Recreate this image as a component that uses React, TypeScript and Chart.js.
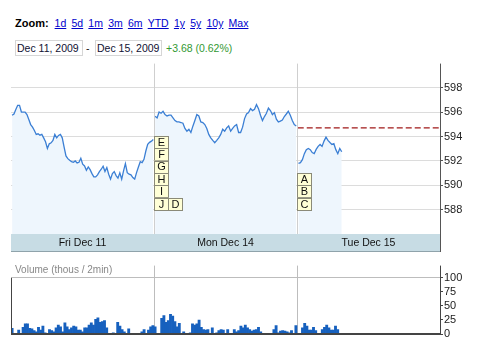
import React, { useEffect, useRef } from 'react';
import { Chart, registerables } from 'chart.js';

Chart.register(...registerables);

// ---------- header text ----------
const ZOOM_LINKS = ['1d', '5d', '1m', '3m', '6m', 'YTD', '1y', '5y', '10y', 'Max'];
const RANGE_FROM = 'Dec 11, 2009';
const RANGE_TO = 'Dec 15, 2009';
const CHANGE_TEXT = '+3.68 (0.62%)';
const VOLUME_TITLE = 'Volume (thous / 2min)';

// ---------- time axis (minutes of trading, 390 per session) ----------
const DAY_LABELS = ['Fri Dec 11', 'Mon Dec 14', 'Tue Dec 15'];
const DAY_STARTS = [0, 390, 780];
const DAY_MINUTES = 390;
const TIME_MAX = 1170;

// ---------- price ----------
const PRICE_MIN = 586;
const PRICE_MAX = 600;
const PRICE_TICKS = [588, 590, 592, 594, 596, 598];
const PREV_CLOSE = 594.72;
const PREV_CLOSE_SPAN = [782, 1170];

const FRI_SPAN = [3, 388];
const FRI_PRICES = [
  595.76, 595.86, 596.22, 596.57, 596.57, 596.02, 596.02, 596.02, 595.81, 595.40,
  594.99, 594.78, 594.50, 594.18, 594.23, 594.12, 594.18, 593.90, 593.58, 593.03,
  593.41, 593.49, 593.69, 594.18, 593.90, 594.10, 594.18, 593.90, 593.14, 592.41,
  592.19, 592.06, 591.94, 591.89, 592.00, 591.84, 591.89, 592.22, 591.73, 591.59,
  591.24, 591.51, 591.29, 590.96, 590.69, 590.69, 590.86, 591.13, 591.32, 591.57,
  591.13, 591.46, 590.91, 590.51, 590.96, 591.13, 590.80, 590.59, 591.02, 590.51,
  591.18, 591.78, 591.04, 590.91, 590.86, 590.64, 590.51, 591.04, 591.51, 591.94,
  591.86, 592.14, 592.82, 593.36, 593.53, 593.63, 593.77,
];

const MON_SPAN = [393, 778];
const MON_PRICES = [
  595.67, 595.54, 596.03, 595.92, 596.08, 595.81, 595.70, 595.76, 595.76, 595.54,
  595.32, 595.21, 595.21, 595.16, 595.10, 594.67, 594.45, 594.61, 594.34, 594.86,
  595.32, 595.81, 595.70, 595.21, 595.16, 594.99, 594.67, 594.18, 593.90, 593.69,
  593.50, 593.69, 593.90, 594.18, 594.61, 594.45, 594.72, 594.88, 594.45, 594.67,
  594.88, 594.99, 594.34, 594.34, 594.78, 595.48, 595.86, 595.97, 596.30, 596.14,
  596.24, 596.63, 596.30, 595.76, 595.32, 595.65, 595.92, 596.35, 596.14, 595.81,
  595.97, 595.43, 595.21, 595.27, 595.37, 595.65, 595.86, 596.08, 595.76, 595.32,
  594.99, 594.88,
];

const TUE_SPAN = [784, 902];
const TUE_PRICES = [
  591.81, 591.86, 592.11, 592.60, 592.93, 593.03, 592.93, 592.69, 592.60, 592.95,
  593.20, 593.36, 593.20, 593.63, 593.96, 593.69, 593.52, 593.36, 593.42, 592.93,
  592.60, 593.03, 592.76,
];

// ---------- news flags ----------
const FLAG_COLUMNS = [
  { at: 390, column: 0, letters: ['E', 'F', 'G', 'H', 'I', 'J'] },
  { at: 390, column: 1, letters: ['D'] },
  { at: 780, column: 0, letters: ['A', 'B', 'C'] },
];
const FLAG_BASE = 587.95;

// ---------- volume (thousands per slot) ----------
const VOLUME_MAX = 122;
const VOLUME_TICKS = [0, 25, 50, 75, 100];
const VOLUME_GRID = 100;
const VOLUME_SLOT = 6;
const FRI_VOLUME = [
  10, 0, 0, 7, 0, 12, 18, 18, 10, 9,
  6, 4, 12, 7, 14, 2, 0, 8, 6, 4,
  11, 16, 13, 4, 20, 13, 8, 11, 14, 13,
  7, 7, 4, 11, 11, 16, 20, 16, 26, 29,
  21, 22, 24, 11, 0, 0, 2, 0, 21, 14,
  8, 4, 0, 9, 0, 0, 0, 0, 0, 4,
  8, 0, 7, 13, 15,
];
const MON_VOLUME = [
  13, 0, 0, 28, 33, 21, 24, 35, 32, 22,
  13, 19, 0, 4, 1, 0, 2, 18, 16, 18,
  25, 12, 8, 7, 8, 0, 11, 0, 2, 6,
  8, 7, 1, 8, 0, 0, 8, 4, 6, 14,
  11, 16, 11, 8, 5, 7, 8, 12, 4, 1,
  0, 0, 0, 0, 8, 15, 2, 5, 6, 5,
  4, 2, 6, 1, 15,
];
const TUE_VOLUME = [0, 0, 11, 19, 14, 7, 7, 12, 6, 0, 0, 8, 12, 16, 11, 7, 7, 14, 8];

// ---------- styles ----------
const FONT = '"Liberation Sans", Arial, sans-serif';
const LINE_COLOR = '#3b7fd4';
const FILL_COLOR = '#eef6fd';
const GRID_COLOR = '#dcdcdc';
const DAY_LINE_COLOR = '#cfcfcf';
const AXIS_COLOR = '#555555';
const BAND_COLOR = '#c7dce4';
const BAR_COLOR = '#1660be';

function toPoints(values: number[], span: number[]) {
  const [a, b] = span;
  return values.map((v, i) => ({ x: a + ((b - a) * i) / (values.length - 1), y: v }));
}

function volumePoints(values: number[], dayStart: number) {
  return values.map((v, i) => ({ x: dayStart + VOLUME_SLOT * i + VOLUME_SLOT / 2, y: v }));
}

const pricePlugin = {
  id: 'priceDecor',
  afterDatasetsDraw(chart: any) {
    const { ctx, chartArea, scales } = chart;
    const xs = scales.x;
    const ys = scales.y;
    ctx.save();
    // day separators
    ctx.strokeStyle = DAY_LINE_COLOR;
    ctx.lineWidth = 1;
    DAY_STARTS.slice(1).forEach((d) => {
      const px = Math.round(xs.getPixelForValue(d)) + 0.5;
      ctx.beginPath();
      ctx.moveTo(px, chartArea.top);
      ctx.lineTo(px, chartArea.bottom);
      ctx.stroke();
    });
    // flags
    const bw = 14;
    const bh = 12.4;
    const base = ys.getPixelForValue(FLAG_BASE);
    ctx.font = `11px ${FONT}`;
    ctx.textAlign = 'center';
    ctx.textBaseline = 'middle';
    FLAG_COLUMNS.forEach((f) => {
      const left = Math.round(xs.getPixelForValue(f.at)) + f.column * bw;
      const n = f.letters.length;
      f.letters.forEach((letter, i) => {
        const top = base - (n - i) * bh;
        ctx.fillStyle = '#ffffd6';
        ctx.fillRect(left, top, bw, bh);
        ctx.strokeStyle = '#8a8a78';
        ctx.strokeRect(left + 0.5, Math.round(top) + 0.5, bw, Math.round(bh));
        ctx.fillStyle = '#111';
        ctx.fillText(letter, left + bw / 2 + 0.5, top + bh / 2 + 0.5);
      });
    });
    ctx.restore();
  },
  afterDraw(chart: any) {
    const { ctx, chartArea, scales } = chart;
    const xs = scales.x;
    ctx.save();
    ctx.lineWidth = 1;
    // band bottom line
    ctx.strokeStyle = '#8fa3ab';
    ctx.beginPath();
    ctx.moveTo(chartArea.left, Math.round(xs.bottom) - 0.5);
    ctx.lineTo(chartArea.right, Math.round(xs.bottom) - 0.5);
    ctx.stroke();
    // right axis
    ctx.strokeStyle = AXIS_COLOR;
    ctx.beginPath();
    ctx.moveTo(Math.round(chartArea.right) + 0.5, chartArea.top);
    ctx.lineTo(Math.round(chartArea.right) + 0.5, xs.bottom);
    ctx.stroke();
    ctx.restore();
  },
};

const volumePlugin = {
  id: 'volumeDecor',
  beforeDatasetsDraw(chart: any) {
    const { ctx, chartArea, scales } = chart;
    const xs = scales.x;
    ctx.save();
    ctx.strokeStyle = '#bdbdbd';
    ctx.lineWidth = 1;
    DAY_STARTS.slice(1).forEach((d) => {
      const px = Math.round(xs.getPixelForValue(d)) + 0.5;
      ctx.beginPath();
      ctx.moveTo(px, chartArea.top);
      ctx.lineTo(px, chartArea.bottom);
      ctx.stroke();
    });
    ctx.restore();
  },
  afterDraw(chart: any) {
    const { ctx, chartArea, scales } = chart;
    const ys = scales.y;
    ctx.save();
    ctx.strokeStyle = '#444';
    ctx.lineWidth = 1;
    const l = Math.round(chartArea.left) + 0.5;
    const r = Math.round(chartArea.right) + 0.5;
    ctx.beginPath();
    ctx.moveTo(l, ys.getPixelForValue(VOLUME_GRID));
    ctx.lineTo(l, chartArea.bottom);
    ctx.moveTo(r, chartArea.top);
    ctx.lineTo(r, chartArea.bottom);
    ctx.stroke();
    ctx.lineWidth = 2;
    ctx.beginPath();
    ctx.moveTo(chartArea.left, chartArea.bottom);
    ctx.lineTo(chartArea.right + 1, chartArea.bottom);
    ctx.stroke();
    ctx.restore();
  },
};

export default function App() {
  const priceRef = useRef<HTMLCanvasElement>(null);
  const volRef = useRef<HTMLCanvasElement>(null);

  useEffect(() => {
    const lineDs = (values: number[], span: number[]) => ({
      data: toPoints(values, span),
      borderColor: LINE_COLOR,
      borderWidth: 1.3,
      backgroundColor: FILL_COLOR,
      fill: 'start',
      pointRadius: 0,
      tension: 0,
    });
    const priceChart = new Chart(priceRef.current as HTMLCanvasElement, {
      type: 'line',
      data: {
        datasets: [
          lineDs(FRI_PRICES, FRI_SPAN),
          lineDs(MON_PRICES, MON_SPAN),
          lineDs(TUE_PRICES, TUE_SPAN),
          {
            data: PREV_CLOSE_SPAN.map((x) => ({ x, y: PREV_CLOSE })),
            borderColor: '#a01818',
            borderWidth: 1.2,
            borderDash: [6, 3],
            pointRadius: 0,
            fill: false,
          },
        ] as any,
      },
      options: {
        responsive: false,
        animation: false,
        devicePixelRatio: 1,
        layout: { padding: { top: 6, bottom: 4, left: 11, right: 0 } },
        plugins: { legend: { display: false }, tooltip: { enabled: false } },
        scales: {
          x: {
            type: 'linear',
            min: 0,
            max: TIME_MAX,
            position: 'bottom',
            afterBuildTicks: (s: any) => {
              s.ticks = DAY_STARTS.map((d) => ({ value: d + DAY_MINUTES / 2 }));
            },
            ticks: {
              autoSkip: false,
              maxRotation: 0,
              padding: 3,
              color: '#111',
              font: { family: FONT, size: 10.5 },
              callback: (_v: any, i: number) => DAY_LABELS[i],
            },
            grid: { display: false, drawTicks: false },
            border: { display: false },
            backgroundColor: BAND_COLOR,
            afterFit: (s: any) => {
              s.height = 18;
            },
          } as any,
          y: {
            position: 'right',
            min: PRICE_MIN,
            max: PRICE_MAX,
            afterBuildTicks: (s: any) => {
              s.ticks = [PRICE_MIN, ...PRICE_TICKS, PRICE_MAX].map((v) => ({ value: v }));
            },
            ticks: {
              padding: 1,
              color: '#222',
              font: { family: FONT, size: 11 },
              callback: (v: any) => (PRICE_TICKS.includes(v) ? String(v) : ''),
            },
            grid: {
              color: (c: any) => (PRICE_TICKS.includes(c.tick?.value) ? GRID_COLOR : 'rgba(0,0,0,0)'),
              tickColor: (c: any) => (PRICE_TICKS.includes(c.tick?.value) ? AXIS_COLOR : 'rgba(0,0,0,0)'),
              tickLength: 3,
            },
            border: { display: false },
            afterFit: (s: any) => {
              s.width = 44;
            },
          } as any,
        },
      },
      plugins: [pricePlugin],
    });

    const volChart = new Chart(volRef.current as HTMLCanvasElement, {
      type: 'bar',
      data: {
        datasets: [
          {
            data: [
              ...volumePoints(FRI_VOLUME, DAY_STARTS[0]),
              ...volumePoints(MON_VOLUME, DAY_STARTS[1]),
              ...volumePoints(TUE_VOLUME, DAY_STARTS[2]),
            ],
            backgroundColor: BAR_COLOR,
            borderWidth: 0,
            barPercentage: 1,
            categoryPercentage: 1,
          },
        ] as any,
      },
      options: {
        responsive: false,
        animation: false,
        devicePixelRatio: 1,
        layout: { padding: { top: 6, bottom: 8, left: 11, right: 0 } },
        plugins: { legend: { display: false }, tooltip: { enabled: false } },
        scales: {
          x: { type: 'linear', min: 0, max: TIME_MAX, display: false, offset: false } as any,
          y: {
            position: 'right',
            min: 0,
            max: VOLUME_MAX,
            afterBuildTicks: (s: any) => {
              s.ticks = VOLUME_TICKS.map((v) => ({ value: v }));
            },
            ticks: {
              padding: 1,
              color: '#222',
              font: { family: FONT, size: 11 },
              callback: (v: any) => String(v),
            },
            grid: {
              color: (c: any) => (c.tick?.value === VOLUME_GRID ? '#bdbdbd' : 'rgba(0,0,0,0)'),
              tickColor: '#444',
              tickLength: 3,
            },
            border: { display: false },
            afterFit: (s: any) => {
              s.width = 44;
            },
          } as any,
        },
      },
      plugins: [volumePlugin],
    });

    return () => {
      priceChart.destroy();
      volChart.destroy();
    };
  }, []);

  const box: React.CSSProperties = {
    position: 'absolute',
    top: 40,
    height: 14,
    border: '1px solid #d6d6d6',
    fontSize: 10.5,
    lineHeight: '14px',
    color: '#111133',
    paddingLeft: 1,
    whiteSpace: 'nowrap',
  };

  return (
    <div
      style={{
        position: 'absolute',
        left: 0,
        top: 0,
        width: 484,
        height: 364,
        background: '#fff',
        fontFamily: FONT,
        overflow: 'hidden',
      }}
    >
      <div style={{ position: 'absolute', left: 15, top: 16, fontSize: 11, lineHeight: '14px', display: 'flex', whiteSpace: 'nowrap' }}>
        <span style={{ fontWeight: 'bold', marginRight: 6, color: '#000' }}>Zoom:</span>
        {ZOOM_LINKS.map((l) => (
          <span key={l} style={{ color: '#0000cc', textDecoration: 'underline', marginRight: 5.2, fontSize: 10.5 }}>
            {l}
          </span>
        ))}
      </div>
      <div style={{ ...box, left: 15, width: 65 }}>{RANGE_FROM}</div>
      <div style={{ position: 'absolute', left: 86, top: 41, fontSize: 10.5, lineHeight: '14px', color: '#111' }}>-</div>
      <div style={{ ...box, left: 95, width: 64 }}>{RANGE_TO}</div>
      <div style={{ position: 'absolute', left: 166, top: 41, fontSize: 10.5, lineHeight: '14px', color: '#339933', whiteSpace: 'nowrap' }}>
        {CHANGE_TEXT}
      </div>
      <canvas
        ref={priceRef}
        width={484}
        height={200}
        style={{ position: 'absolute', left: 0, top: 56, width: 484, height: 200 }}
      />
      <canvas
        ref={volRef}
        width={484}
        height={84}
        style={{ position: 'absolute', left: 0, top: 258, width: 484, height: 84 }}
      />
      <div style={{ position: 'absolute', left: 15, top: 263, fontSize: 10, lineHeight: '13px', color: '#888', whiteSpace: 'nowrap' }}>
        {VOLUME_TITLE}
      </div>
    </div>
  );
}
